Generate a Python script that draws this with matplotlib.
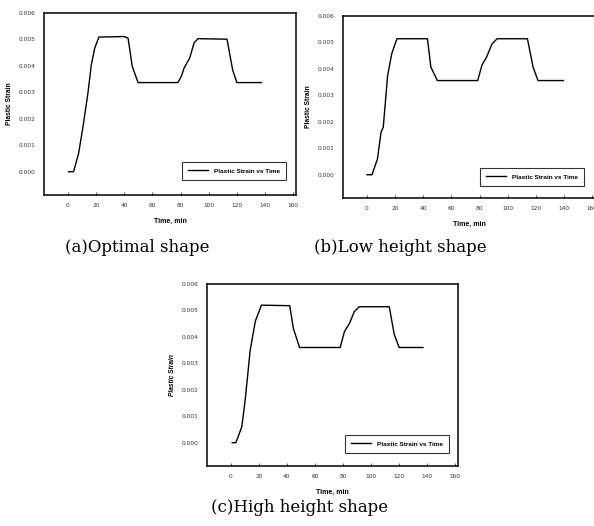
import matplotlib
matplotlib.use("Agg")
import matplotlib.pyplot as plt
from matplotlib.ticker import FormatStrFormatter

# values
time_a = [0.5, 4, 7.6, 10.7, 14.2, 16.6, 19, 22, 40, 42.7, 45.7, 49.8, 78, 80.5, 82.5, 86.5, 89.6, 92.4, 113, 117, 120, 137.4]
strain_a = [0.0, 0.0, 0.0007, 0.0017, 0.00297, 0.00404, 0.00467, 0.00509, 0.00511, 0.00505, 0.00398, 0.00337,
            0.00337, 0.0036, 0.00392, 0.0043, 0.00487, 0.00503, 0.00501, 0.00385, 0.00337, 0.00337]

time_b = [0, 3.6, 7.5, 10, 11.6, 14.7, 17.6, 21.3, 43, 45.4, 50, 78.7, 81.6, 85, 88.9, 92.5, 114, 118, 121.5, 139.6]
strain_b = [0.0, 0.0, 0.0006, 0.0016, 0.0018, 0.00375, 0.00457, 0.00514, 0.00514, 0.00407, 0.00356,
            0.00356, 0.00413, 0.00445, 0.00495, 0.00514, 0.00514, 0.00407, 0.00356, 0.00356]

time_c = [1, 3.6, 7.8, 10.2, 13.8, 17.5, 21.8, 42, 44.6, 49, 78, 81, 84.5, 88, 91.5, 113, 116.5, 120, 137]
strain_c = [0.0, 0.0, 0.0006, 0.0016, 0.0035, 0.0046, 0.0052, 0.00518, 0.00432, 0.0036,
            0.0036, 0.0042, 0.0045, 0.00495, 0.00514, 0.00514, 0.0041, 0.0036, 0.0036]

x_ticks = [0, 20, 40, 60, 80, 100, 120, 140, 160]
y_ticks = [0.000, 0.001, 0.002, 0.003, 0.004, 0.005, 0.006]
series_label = "Plastic Strain vs Time"
captions = ["(a)Optimal shape", "(b)Low height shape", "(c)High height shape"]

W, H = 594, 526
fig = plt.figure(figsize=(W / 100, H / 100), dpi=100)


def px_axes(left, top, right, bottom):
    return fig.add_axes([left / W, 1 - bottom / H, (right - left) / W, (bottom - top) / H])


def draw_panel(ax, t, s, legend_anchor, italic_ylabel=False):
    ax.plot(t, s, color="black", lw=1.0, label=series_label)
    ax.set_xlim(-17, 162)
    ax.set_ylim(-0.00088, 0.006)
    ax.set_xticks(x_ticks)
    ax.set_yticks(y_ticks)
    ax.yaxis.set_major_formatter(FormatStrFormatter("%.3f"))
    ax.tick_params(axis="x", direction="in", length=2, width=0.6, labelsize=4.2, pad=6, colors="#333333")
    ax.tick_params(axis="y", length=0, labelsize=4.2, pad=6, colors="#333333")
    for sp in ax.spines.values():
        sp.set_linewidth(1.1)
    ax.set_xlabel("Time, min", fontsize=5, fontweight="bold", family="Liberation Sans", labelpad=7)
    ax.set_ylabel("Plastic Strain", fontsize=4.8, fontweight="bold", family="Liberation Sans",
                  style="italic" if italic_ylabel else "normal", labelpad=4)
    leg = ax.legend(loc="lower right", bbox_to_anchor=legend_anchor, fancybox=False, frameon=True,
                    prop={"family": "Liberation Sans", "weight": "bold", "size": 4.6},
                    handlelength=3.2, borderpad=1.0, borderaxespad=0)
    leg.get_frame().set_edgecolor("black")
    leg.get_frame().set_linewidth(0.8)


ax_a = px_axes(44, 13, 296, 195)
draw_panel(ax_a, time_a, strain_a, (0.96, 0.082))

ax_b = px_axes(343, 16, 595, 198)
draw_panel(ax_b, time_b, strain_b, (0.956, 0.066))

ax_c = px_axes(207, 284, 458, 466)
draw_panel(ax_c, time_c, strain_c, (0.964, 0.071), italic_ylabel=True)

cap_font = dict(family="DejaVu Serif", fontsize=12, ha="center", va="center")
fig.text(137 / W, 1 - 247 / H, captions[0], **cap_font)
fig.text(400 / W, 1 - 247 / H, captions[1], **cap_font)
fig.text(300 / W, 1 - 508 / H, captions[2], **cap_font)

fig.savefig("out.png", dpi=100)
